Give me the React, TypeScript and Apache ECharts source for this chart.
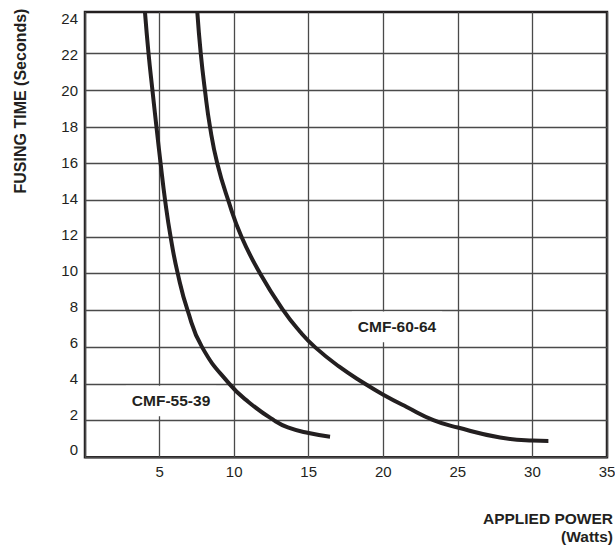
import { useEffect, useRef } from "react";
import * as echarts from "echarts";

// ---- data ----
const xTicks = [0, 5, 10, 15, 20, 25, 30, 35];
const yTickLabels = [0, 2, 4, 6, 8, 10, 12, 14, 16, 18, 20, 22, 24];
const yGridValues = [0, 2, 4, 6, 8, 10, 12, 14, 16, 18, 20, 22];

const seriesNames = ["CMF-55-39", "CMF-60-64"];

const cmf5539Power = [4.02, 4.26, 4.52, 4.79, 5.07, 5.37, 5.74, 6.22, 6.88, 7.85, 9.68, 10.98, 12.7, 13.6, 15.0, 16.43];
const cmf5539Time = [24.25, 22, 20, 18, 16, 14, 12, 10, 8, 6, 4, 3, 2, 1.63, 1.32, 1.12];

const cmf6064Power = [7.53, 7.76, 8.04, 8.38, 8.87, 9.6, 10.5, 11.75, 13.3, 14.42, 15.42, 17.0, 18.8, 20.0, 21.57, 23.36, 25.0, 27.83, 30.0, 31.07];
const cmf6064Time = [24.25, 22, 20, 18, 16, 14, 12, 10, 8, 6.84, 6, 4.96, 3.99, 3.41, 2.74, 2.03, 1.62, 1.08, 0.91, 0.89];

const labelCoords = [
  [5.77, 3.07],
  [20.92, 7.1],
];

const xTitle = "APPLIED POWER\n(Watts)";
const yTitle = "FUSING TIME (Seconds)";

const INK = "#231f20";
const GRID = "#4a4a4a";
const FONT = "'Liberation Sans', Arial, Helvetica, sans-serif";
const LABEL_PADDING = [
  [5.5, 6, 9, 6],
  [9.3, 6, 5.5, 6],
];

const zip = (xs: number[], ys: number[]) => xs.map((x, i) => [x, ys[i]]);

export default function App() {
  const ref = useRef<HTMLDivElement>(null);

  useEffect(() => {
    if (!ref.current) return;
    const chart = echarts.init(ref.current, undefined, { renderer: "svg" });
    const curves = [zip(cmf5539Power, cmf5539Time), zip(cmf6064Power, cmf6064Time)];

    chart.setOption({
      animation: false,
      backgroundColor: "#fff",
      textStyle: { fontFamily: FONT },
      grid: {
        left: 85,
        top: 12,
        width: 522,
        height: 445.3,
        show: true,
        borderColor: INK,
        borderWidth: 2.5,
        containLabel: false,
        outerBoundsMode: "none",
      },
      xAxis: {
        type: "value",
        min: xTicks[0],
        max: xTicks[xTicks.length - 1],
        interval: 5,
        axisLine: { show: false },
        axisTick: { show: false },
        axisLabel: {
          showMinLabel: false,
          showMaxLabel: true,
          fontSize: 15,
          color: INK,
          margin: 7,
          fontFamily: FONT,
        },
        splitLine: { show: true, lineStyle: { color: GRID, width: 1.3 } },
      },
      yAxis: [
        {
          type: "value",
          min: 0,
          max: 24.25,
          axisLine: { show: false },
          axisTick: { show: false, customValues: yGridValues },
          axisLabel: { show: false },
          splitLine: { show: true, lineStyle: { color: GRID, width: 1.3 } },
        },
        {
          type: "value",
          min: -0.406,
          max: 24.351,
          position: "left",
          axisLine: { show: false },
          axisTick: { show: false },
          splitLine: { show: false },
          axisLabel: {
            customValues: yTickLabels,
            fontSize: 15,
            color: INK,
            margin: 7,
            fontFamily: FONT,
          },
        },
      ],
      series: curves.map((data, i) => ({
        type: "line",
        name: seriesNames[i],
        data,
        yAxisIndex: 0,
        smooth: 0.5,
        showSymbol: false,
        clip: true,
        lineStyle: { color: INK, width: 4 },
        itemStyle: { color: INK },
        markPoint: {
          symbol: "rect",
          symbolSize: 1,
          itemStyle: { color: "#fff" },
          label: {
            show: true,
            position: "inside",
            formatter: seriesNames[i],
            color: INK,
            fontWeight: "bold",
            fontSize: 15.5,
            lineHeight: 16,
            fontFamily: FONT,
            backgroundColor: "#fff",
            padding: LABEL_PADDING[i],
          },
          data: [{ name: seriesNames[i], coord: labelCoords[i] }],
        },
      })),
      graphic: [
        {
          type: "text",
          x: 20,
          y: 101,
          rotation: Math.PI / 2,
          style: {
            text: yTitle,
            fill: INK,
            font: `bold 16px ${FONT}`,
            align: "center",
            verticalAlign: "middle",
          },
        },
        {
          type: "text",
          x: 613,
          y: 508.75,
          style: {
            text: xTitle,
            fill: INK,
            font: `bold 15.5px ${FONT}`,
            lineHeight: 18.5,
            align: "right",
            verticalAlign: "top",
          },
        },
      ],
    });

    return () => chart.dispose();
  }, []);

  return (
    <div
      ref={ref}
      style={{ position: "fixed", left: 0, top: 0, width: 615, height: 546 }}
    />
  );
}
